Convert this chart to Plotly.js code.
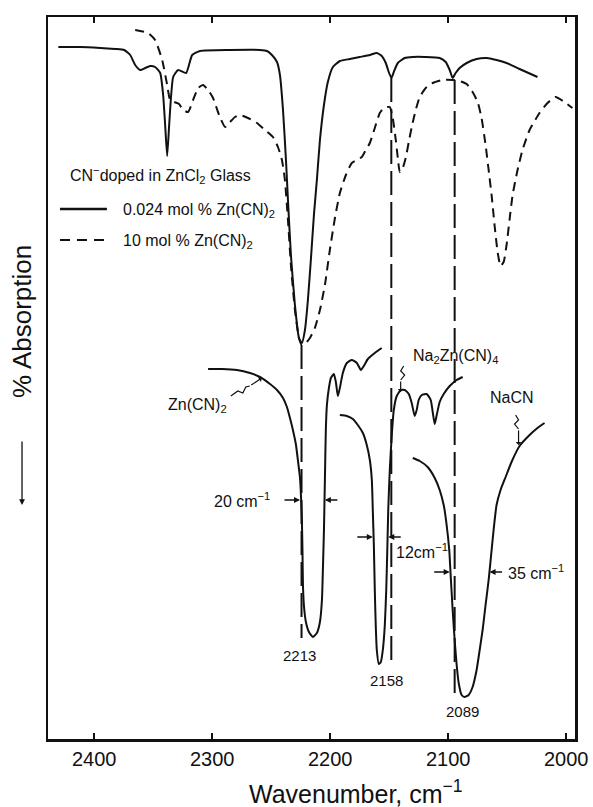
<!DOCTYPE html>
<html>
<head>
<meta charset="utf-8">
<script src="https://cdn.plot.ly/plotly-3.0.1.min.js"></script>
<style>html,body{margin:0;padding:0;background:#fff;}#chart{width:593px;height:807px;}</style>
</head>
<body>
<div id="chart"></div>
<script>
// ---------- DATA (wavenumber in cm^-1, absorption in arbitrary units, larger = higher on page) ----------
// Upper spectrum, 0.024 mol % Zn(CN)2 (solid)
const lowConcW = [2430.4, 2411.8, 2394.9, 2382.2, 2374.6, 2369.5, 2365.3, 2361.0, 2356.8, 2352.6,
  2348.4, 2344.1, 2341.6, 2339.9, 2338.2, 2336.5, 2334.8, 2333.1, 2328.9, 2322.1,
  2317.0, 2310.3, 2284.9, 2259.5, 2253.6, 2249.4, 2245.1, 2242.6, 2240.0, 2237.5,
  2235.8, 2233.3, 2229.9, 2226.5, 2224.0, 2221.4, 2218.9, 2216.4, 2213.8, 2211.3,
  2208.7, 2205.3, 2202.0, 2197.7, 2191.8, 2183.4, 2174.9, 2166.4, 2160.5, 2156.3,
  2152.9, 2150.4, 2148.1, 2146.1, 2142.7, 2136.8, 2130.0, 2119.9, 2107.2, 2102.1,
  2098.7, 2096.2, 2093.7, 2090.3, 2084.3, 2075.9, 2067.4, 2059.0, 2050.5, 2039.5, 2024.3];
const lowConcA = [693, 693, 692, 691, 690, 685, 675, 670, 672, 674,
  673, 667, 645, 615, 584, 615, 645, 663, 670, 667,
  685, 689, 690, 690, 689, 685, 678, 665, 630, 580,
  540, 485, 435, 402, 397, 410, 440, 480, 525, 560,
  600, 635, 658, 673, 679, 681, 683, 685, 687, 684,
  677, 668, 662, 668, 677, 682, 683, 683, 682, 678,
  670, 662, 667, 672, 677, 681, 682, 680, 677, 671, 663];

// Upper spectrum, 10 mol % Zn(CN)2 (dashed)
const highConcW = [2365.3, 2354.3, 2348.4, 2342.4, 2338.2, 2335.7, 2332.3, 2328.1, 2324.7, 2320.4,
  2316.2, 2312.0, 2307.7, 2303.5, 2299.3, 2294.2, 2289.1, 2284.9, 2280.7, 2276.4,
  2269.7, 2262.1, 2255.3, 2248.5, 2244.3, 2240.9, 2238.4, 2235.8, 2233.3, 2229.9,
  2226.5, 2224.0, 2220.6, 2217.2, 2213.0, 2208.7, 2204.5, 2200.3, 2196.0, 2191.8,
  2186.7, 2181.7, 2177.4, 2173.2, 2169.8, 2166.4, 2162.2, 2158.0, 2154.6, 2149.5,
  2147.0, 2144.4, 2142.7, 2141.0, 2138.5, 2136.0, 2133.4, 2130.9, 2127.5, 2124.1,
  2119.0, 2113.1, 2104.7, 2096.2, 2090.3, 2084.3, 2079.3, 2075.0, 2071.7, 2068.3,
  2065.7, 2063.2, 2060.7, 2058.1, 2055.6, 2053.0, 2050.5, 2048.0, 2045.4, 2041.2,
  2037.0, 2031.0, 2022.6, 2015.8, 2009.0, 2001.4, 1994.7];
const highConcA = [710, 707, 700, 680, 655, 640, 638, 636, 630, 628,
  640, 652, 655, 650, 642, 625, 613, 618, 623, 625,
  622, 617, 610, 603, 593, 580, 560, 520, 475, 430,
  402, 395, 397, 402, 412, 430, 455, 490, 522, 547,
  565, 577, 580, 583, 590, 597, 612, 627, 632, 633,
  622, 600, 582, 568, 572, 582, 598, 613, 630, 643,
  652, 657, 660, 660, 659, 656, 648, 638, 622, 595,
  570, 545, 515, 488, 474, 478, 495, 520, 545, 570,
  590, 610, 627, 637, 643, 638, 632];

// Reference crystal: Zn(CN)2
const znW = [2303.5, 2291.7, 2279.0, 2268.0, 2259.5, 2251.0, 2245.1, 2240.0, 2236.7, 2234.1,
  2231.6, 2229.0, 2227.4, 2225.6, 2224.8, 2224.0, 2223.5, 2223.1, 2222.3, 2220.6,
  2218.0, 2214.7, 2211.3, 2208.7, 2207.0, 2206.2, 2205.3, 2204.5, 2203.7, 2202.8,
  2201.1, 2199.4, 2196.9, 2195.2, 2193.5, 2191.8, 2189.3, 2185.9, 2181.7, 2177.4,
  2174.0, 2171.5, 2168.1, 2162.2, 2156.3];
const znA = [371, 371, 370, 367, 363, 356, 350, 342, 333, 322,
  310, 295, 280, 262, 245, 220, 190, 155, 135, 118,
  108, 103, 107, 118, 140, 170, 210, 260, 310, 335,
  352, 362, 366, 358, 344, 352, 367, 377, 380, 377,
  370, 374, 381, 387, 392];

// Reference crystal: Na2Zn(CN)4
const naZnW = [2191.8, 2185.9, 2180.8, 2176.6, 2172.3, 2169.0, 2166.4, 2164.7, 2163.9, 2163.0,
  2162.2, 2161.4, 2160.5, 2158.8, 2157.1, 2155.4, 2153.7, 2152.5, 2151.6, 2150.8,
  2149.5, 2147.8, 2146.1, 2143.6, 2140.2, 2136.8, 2133.4, 2130.9, 2128.4, 2126.7,
  2125.0, 2122.4, 2118.2, 2114.8, 2113.1, 2111.4, 2109.7, 2107.2, 2103.8, 2098.7,
  2092.8, 2087.7];
const naZnA = [325, 324, 321, 315, 307, 295, 280, 260, 230, 195,
  150, 115, 90, 76, 78, 90, 115, 150, 190, 230,
  270, 305, 330, 344, 350, 350, 346, 337, 324, 330,
  340, 345, 346, 340, 328, 316, 325, 338, 346, 354,
  360, 363];

// Reference crystal: NaCN
const naCNW = [2130.0, 2124.1, 2117.4, 2111.4, 2107.2, 2103.8, 2101.3, 2099.1, 2097.9, 2096.2,
  2094.5, 2092.8, 2091.1, 2088.6, 2086.0, 2082.7, 2079.3, 2075.9, 2073.3, 2070.8,
  2068.3, 2065.7, 2064.0, 2061.5, 2059.0, 2055.6, 2051.3, 2046.3, 2039.5, 2031.0,
  2024.3, 2018.3];
const naCNA = [282, 279, 273, 262, 250, 235, 215, 190, 165, 130,
  100, 75, 57, 45, 43, 45, 53, 70, 90, 110,
  135, 160, 180, 210, 235, 250, 263, 278, 294, 305,
  312, 317];

// Vertical long-dash guide lines
const guideW = [2224.3, 2148.2, 2094.5];
const guideTop = [395, 662, 660];
const guideBottom = [102, 77, 40];

// Half-width markers
const fwhmLeft = [2225.6, 2163.9, 2098.7];
const fwhmRight = [2204.5, 2150.8, 2064.9];
const fwhmLevel = [240, 203, 168];

// Tick labels
const tickVals = [2400, 2300, 2200, 2100, 2000];
const tickText = ['2400', '2300', '2200', '2100', '2000'];

// ---------- LAYOUT ----------
const FONT = 'Liberation Sans, Arial, Helvetica, sans-serif';
const INK = '#111111';
const M = {l: 48, r: 17.5, t: 17, b: 68};
const W = 593, H = 807;
const plotW = W - M.l - M.r, plotH = H - M.t - M.b;
const pxX = px => (px - M.l) / plotW;
const pxY = py => (H - M.b - py) / plotH;

function curve(x, y, dash) {
  return {type: 'scatter', mode: 'lines', x: x, y: y, hoverinfo: 'skip', showlegend: false,
    line: {color: INK, width: 2, dash: dash, shape: 'spline', smoothing: 0.5}};
}

const traces = [
  curve(lowConcW, lowConcA, 'solid'),
  curve(highConcW, highConcA, '9px,6px'),
  curve(znW, znA, 'solid'),
  curve(naZnW, naZnA, 'solid'),
  curve(naCNW, naCNA, 'solid')
];
const gx = [], gy = [];
guideW.forEach((w, i) => { gx.push(w, w, null); gy.push(guideTop[i], guideBottom[i], null); });
traces.push({type: 'scatter', mode: 'lines', x: gx, y: gy, hoverinfo: 'skip', showlegend: false,
  line: {color: INK, width: 2, dash: '24px,7px'}});

const ann = [];
const shapes = [];
function label(text, px, py, anchor, size, angle) {
  ann.push({xref: 'paper', yref: 'paper', x: pxX(px), y: pxY(py), text: text, showarrow: false,
    xanchor: anchor || 'center', yanchor: 'middle', textangle: angle || 0,
    font: {size: size || 16, color: INK, family: FONT}});
}
// squiggly leader ending in an arrow head (pixel positions of the leader)
function squiggle(pts, head) {
  const d = pts.map((p, i) => (i ? 'L' : 'M') + pxX(p[0]) + ',' + pxY(p[1])).join(' ');
  shapes.push({type: 'path', xref: 'paper', yref: 'paper', path: d, line: {color: INK, width: 1.2}});
  const t = pts[pts.length - 1];
  ann.push({xref: 'paper', yref: 'paper', x: pxX(head[0]), y: pxY(head[1]), ax: t[0] - head[0], ay: t[1] - head[1],
    text: '', showarrow: true, arrowhead: 1, arrowsize: 0.8, arrowwidth: 1.2, arrowcolor: INK, standoff: 0});
}

// legend block
label('CN<sup>−</sup>doped in ZnCl<sub>2</sub> Glass', 68, 175, 'left', 16);
label('0.024 mol % Zn(CN)<sub>2</sub>', 121, 210, 'left', 16);
label('10 mol % Zn(CN)<sub>2</sub>', 121, 241, 'left', 16);
shapes.push({type: 'line', xref: 'paper', yref: 'paper', x0: pxX(60), x1: pxX(107), y0: pxY(209), y1: pxY(209),
  line: {color: INK, width: 2.5}});
shapes.push({type: 'line', xref: 'paper', yref: 'paper', x0: pxX(60), x1: pxX(107), y0: pxY(240), y1: pxY(240),
  line: {color: INK, width: 1.8, dash: '10px,7px'}});

// compound labels and peak positions
label('Zn(CN)<sub>2</sub>', 198, 405, 'center', 16);
label('Na<sub>2</sub>Zn(CN)<sub>4</sub>', 411, 357, 'left', 16);
label('NaCN', 512, 398, 'center', 16);
label('2213', 300, 655, 'center', 15);
label('2158', 387, 680, 'center', 15);
label('2089', 463, 711, 'center', 15);
label('20 cm<sup>−1</sup>', 272, 500, 'right', 16);
label('12cm<sup>−1</sup>', 394, 551, 'left', 16);
label('35 cm<sup>−1</sup>', 506, 572, 'left', 16);

squiggle([[231, 396], [238, 391], [243, 393], [246, 387], [250, 386]], [262, 378]);
squiggle([[404, 366], [401, 371], [405, 375], [401, 380]], [401, 392]);
squiggle([[516, 415], [519, 420], [515, 424], [519, 429]], [519, 445]);

// half-width arrows
fwhmLevel.forEach((lv, i) => {
  ann.push({xref: 'x', yref: 'y', x: fwhmLeft[i], y: lv, ax: -17, ay: 0, text: '', showarrow: true,
    arrowhead: 2, arrowsize: 0.8, arrowwidth: 1.5, arrowcolor: INK, standoff: 0});
  ann.push({xref: 'x', yref: 'y', x: fwhmRight[i], y: lv, ax: 14, ay: 0, text: '', showarrow: true,
    arrowhead: 2, arrowsize: 0.8, arrowwidth: 1.5, arrowcolor: INK, standoff: 0});
});

// axis titles
label('Wavenumber, cm<sup>−1</sup>', 356, 792, 'center', 25);
label('% Absorption', 22, 322, 'center', 26, -90);
ann.push({xref: 'paper', yref: 'paper', x: pxX(22), y: pxY(505), ax: 0, ay: -65, text: '',
  showarrow: true, arrowhead: 2, arrowsize: 0.9, arrowwidth: 1.3, arrowcolor: INK, standoff: 0});

const layout = {
  width: W, height: H, margin: M, paper_bgcolor: '#fff', plot_bgcolor: '#fff',
  font: {family: FONT, color: INK},
  showlegend: false,
  xaxis: {range: [2439.2, 1992.5], tickvals: tickVals, ticktext: tickText, ticks: 'inside', ticklen: 6,
    tickwidth: 2, tickcolor: INK, showline: true, linewidth: 2.5, linecolor: INK, mirror: 'ticks',
    showgrid: false, zeroline: false, tickfont: {size: 20, family: FONT, color: INK}},
  yaxis: {range: [1, 723], showline: true, linewidth: 2.5, linecolor: INK, mirror: true,
    showticklabels: false, ticks: '', showgrid: false, zeroline: false},
  annotations: ann, shapes: shapes
};

Plotly.newPlot('chart', traces, layout, {staticPlot: true, displayModeBar: false});
</script>
</body>
</html>
